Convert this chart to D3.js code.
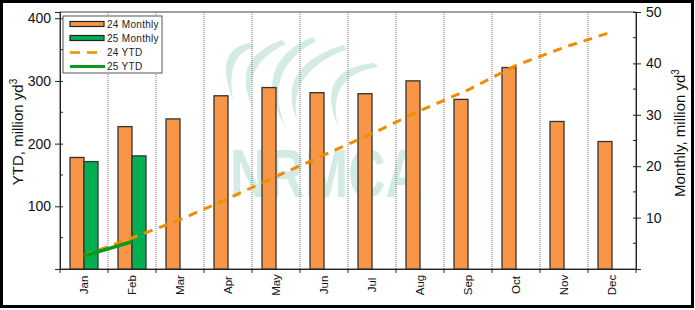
<!DOCTYPE html>
<html>
<head>
<meta charset="utf-8">
<script src="https://cdnjs.cloudflare.com/ajax/libs/d3/7.8.5/d3.min.js"></script>
<style>
  body { margin: 0; background: #fff; }
  svg { display: block; font-family: "Liberation Sans", Arial, sans-serif; }
</style>
</head>
<body>
<svg id="chart" width="695" height="310"></svg>
<script>
// monthly ready-mixed concrete volumes
var months = ["Jan","Feb","Mar","Apr","May","Jun","Jul","Aug","Sep","Oct","Nov","Dec"];
var monthly24 = [21.7, 27.7, 29.2, 33.7, 35.3, 34.3, 34.1, 36.6, 33.0, 39.2, 28.7, 24.8];
var monthly25 = [20.9, 22.0];
var ytd24 = [21.7, 49.4, 78.6, 112.3, 147.6, 181.9, 216.0, 252.6, 285.6, 324.8, 353.5, 378.3];
var ytd25 = [20.9, 43.5];
var leftTicks = [100, 200, 300, 400];
var leftMinor = [50, 150, 250, 350];
var rightTicks = [10, 20, 30, 40, 50];
var rightMinor = [5, 15, 25, 35, 45];

var orange = "#f79646", green = "#00b050";
var lineOrange = "#ef8c00", lineGreen = "#0a9a1a";

var svg = d3.select("#chart");
var pl = 60, pr = 636, pt = 12, pb = 269;

var x = d3.scaleBand().domain(months).range([pl, pr]);
var yL = d3.scaleLinear().domain([0, 410]).range([pb, pt]);
var yR = d3.scaleLinear().domain([0, 50]).range([pb, pt]);
var barW = 14;

// outer frame
svg.append("rect").attr("x", 1.5).attr("y", 1.5).attr("width", 691).attr("height", 305)
  .attr("fill", "#fff").attr("stroke", "#000").attr("stroke-width", 3);

// watermark (NRMCA logo, faint)
var wm = svg.append("g").attr("fill", "#d3ebe3");
var arcs = [
  [[250,43],[227,77],[233,100]],
  [[282,40],[242,87],[254,110]],
  [[312,37],[262,93],[287,130]],
  [[343,45],[287,95],[298,122]],
  [[374,63],[328,97],[338,127]]
];
arcs.forEach(function(a) {
  var t = a[0], m = a[1], b = a[2];
  var p = "M" + t[0] + "," + t[1] +
    " Q" + (m[0]-14) + "," + (m[1]-28) + " " + b[0] + "," + b[1] +
    " Q" + (m[0]-2) + "," + (m[1]-22) + " " + (t[0]+4) + "," + (t[1]+4) + "Z";
  wm.append("path").attr("d", p);
});
wm.append("text").attr("x", 230).attr("y", 197)
  .attr("font-size", 68).attr("font-weight", "bold")
  .attr("textLength", 193).attr("lengthAdjust", "spacingAndGlyphs")
  .text("NRMCA");

// vertical dotted grid at month boundaries
var bounds = months.slice(1).map(function(m) { return x(m); });
svg.append("g").selectAll("line").data(bounds).join("line")
  .attr("x1", function(d) { return d; }).attr("x2", function(d) { return d; })
  .attr("y1", pt).attr("y2", pb)
  .attr("stroke", "#777").attr("stroke-width", 1).attr("stroke-dasharray", "1,1");

// plot frame
svg.append("rect").attr("x", pl).attr("y", pt).attr("width", pr - pl).attr("height", pb - pt)
  .attr("fill", "none").attr("stroke", "#444").attr("stroke-width", 1);

// bars
svg.append("g").selectAll("rect").data(monthly24).join("rect")
  .attr("x", function(d, i) { return x(months[i]) + x.bandwidth() / 2 - barW; })
  .attr("y", function(d) { return yR(d); })
  .attr("width", barW)
  .attr("height", function(d) { return pb - yR(d); })
  .attr("fill", orange).attr("stroke", "#333").attr("stroke-width", 1.3);

svg.append("g").selectAll("rect").data(monthly25).join("rect")
  .attr("x", function(d, i) { return x(months[i]) + x.bandwidth() / 2; })
  .attr("y", function(d) { return yR(d); })
  .attr("width", barW)
  .attr("height", function(d) { return pb - yR(d); })
  .attr("fill", green).attr("stroke", "#333").attr("stroke-width", 1.3);

// YTD lines
var line = d3.line()
  .x(function(d, i) { return x(months[i]) + x.bandwidth() / 2; })
  .y(function(d) { return yL(d); });

svg.append("path").datum(ytd24).attr("d", line)
  .attr("fill", "none").attr("stroke", lineOrange).attr("stroke-width", 3)
  .attr("stroke-dasharray", "9,7");
svg.append("path").datum(ytd25).attr("d", line)
  .attr("fill", "none").attr("stroke", lineGreen).attr("stroke-width", 3.5);

// axes
var axisL = d3.axisLeft(yL).tickValues(leftTicks).tickSize(5).tickPadding(4);
var gL = svg.append("g").attr("transform", "translate(" + pl + ",0)").call(axisL);
var axisR = d3.axisRight(yR).tickValues(rightTicks).tickSize(5).tickPadding(5);
var gR = svg.append("g").attr("transform", "translate(" + pr + ",0)").call(axisR);
[gL, gR].forEach(function(g) {
  g.select(".domain").attr("stroke", "#222");
  g.selectAll(".tick line").attr("stroke", "#222");
  g.selectAll("text").attr("font-size", 14).attr("fill", "#111")
    .attr("font-family", "Liberation Sans, Arial, sans-serif");
});
gL.selectAll(".tick line").attr("x2", 3).attr("x1", -5);
gR.selectAll(".tick line").attr("x1", -3).attr("x2", 5);

svg.append("g").selectAll("line").data(leftMinor).join("line")
  .attr("x1", pl).attr("x2", pl + 3)
  .attr("y1", function(d) { return yL(d); }).attr("y2", function(d) { return yL(d); })
  .attr("stroke", "#222");
svg.append("g").selectAll("line").data(rightMinor).join("line")
  .attr("x1", pr - 3).attr("x2", pr)
  .attr("y1", function(d) { return yR(d); }).attr("y2", function(d) { return yR(d); })
  .attr("stroke", "#222");

// x axis
var axisB = d3.axisBottom(x).tickSize(0).tickFormat("");
var gB = svg.append("g").attr("transform", "translate(0," + pb + ")").call(axisB);
gB.select(".domain").attr("stroke", "#222");
svg.append("g").selectAll("line").data([pl].concat(bounds, [pr])).join("line")
  .attr("x1", function(d) { return d; }).attr("x2", function(d) { return d; })
  .attr("y1", pb).attr("y2", pb + 4).attr("stroke", "#222");
svg.append("g").selectAll("text").data(months).join("text")
  .attr("transform", function(d) {
    return "translate(" + (x(d) + x.bandwidth() / 2) + ",285) rotate(-90)";
  })
  .attr("text-anchor", "middle").attr("dy", "0.35em")
  .attr("font-size", 11.5).attr("fill", "#111")
  .text(function(d) { return d; });

// axis titles
var tL = svg.append("text").attr("transform", "translate(23,132) rotate(-90)")
  .attr("text-anchor", "middle").attr("font-size", 15).attr("fill", "#111");
tL.append("tspan").text("YTD, million yd");
tL.append("tspan").attr("font-size", 10).attr("dy", -6).text("3");

var tR = svg.append("text").attr("transform", "translate(685,133) rotate(-90)")
  .attr("text-anchor", "middle").attr("font-size", 15).attr("fill", "#111");
tR.append("tspan").text("Monthly, million yd");
tR.append("tspan").attr("font-size", 10).attr("dy", -6).text("3");

// legend
var lg = svg.append("g");
lg.append("rect").attr("x", 63).attr("y", 16).attr("width", 99).attr("height", 57)
  .attr("fill", "#fff").attr("stroke", "#555").attr("stroke-width", 1);
var legendNames = ["24 Monthly", "25 Monthly", "24 YTD", "25 YTD"];
var rowY = [24, 38, 52.5, 66.5];
lg.append("rect").attr("x", 70).attr("y", rowY[0] - 2.5).attr("width", 34).attr("height", 5)
  .attr("fill", orange).attr("stroke", "#222").attr("stroke-width", 1.2);
lg.append("rect").attr("x", 70).attr("y", rowY[1] - 2.5).attr("width", 34).attr("height", 5)
  .attr("fill", green).attr("stroke", "#222").attr("stroke-width", 1.2);
lg.append("line").attr("x1", 70).attr("x2", 98).attr("y1", rowY[2]).attr("y2", rowY[2])
  .attr("stroke", lineOrange).attr("stroke-width", 2.5).attr("stroke-dasharray", "10,7");
lg.append("line").attr("x1", 70).attr("x2", 105).attr("y1", rowY[3]).attr("y2", rowY[3])
  .attr("stroke", lineGreen).attr("stroke-width", 3);
lg.selectAll("text").data(legendNames).join("text")
  .attr("x", 107).attr("y", function(d, i) { return rowY[i]; })
  .attr("dy", "0.35em").attr("font-size", 10).attr("letter-spacing", 0.3)
  .attr("fill", "#222")
  .text(function(d) { return d; });
</script>
</body>
</html>
